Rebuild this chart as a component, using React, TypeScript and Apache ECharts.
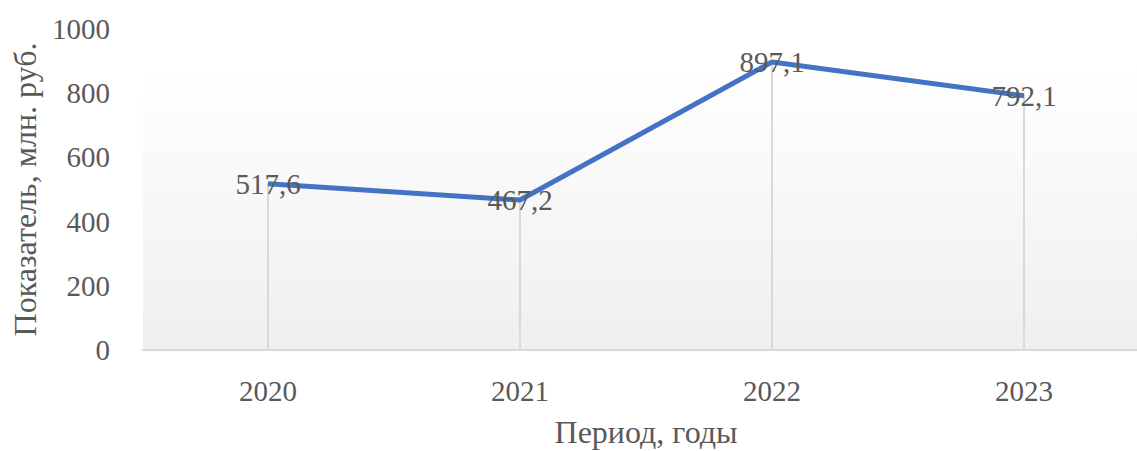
import React, { useEffect, useRef } from "react";
import * as echarts from "echarts";

const categories = ["2020", "2021", "2022", "2023"];
const values = [517.6, 467.2, 897.1, 792.1];
const yTicks = { min: 0, max: 1000, interval: 200 };
const xAxisName = "Период, годы";
const yAxisName = "Показатель, млн. руб.";

export default function App() {
  const ref = useRef<HTMLDivElement>(null);
  useEffect(() => {
    document.body.style.margin = "0";
    const chart = echarts.init(ref.current!, null, { renderer: "svg" });
    const font = "'Liberation Serif', 'Times New Roman', serif";
    const textColor = "#595959";
    chart.setOption({
      animation: false,
      textStyle: { fontFamily: font },
      graphic: [
        {
          type: "rect",
          z: -10,
          shape: { x: 143, y: 65, width: 1000, height: 285 },
          style: {
            fill: new echarts.graphic.LinearGradient(0, 0, 0, 1, [
              { offset: 0, color: "#ffffff" },
              { offset: 1, color: "#efefef" },
            ]),
          },
          silent: true,
        },
      ],
      grid: { left: 142, top: 29, width: 1008, height: 321, outerBoundsMode: "none", containLabel: false },
      xAxis: {
        type: "category",
        data: categories,
        boundaryGap: true,
        name: xAxisName,
        nameLocation: "middle",
        nameGap: 68,
        nameTextStyle: { fontSize: 32, lineHeight: 28, color: textColor, fontFamily: font },
        axisLine: { lineStyle: { color: "#d9d9d9", width: 2 } },
        axisTick: { show: false },
        axisLabel: { fontSize: 29, color: textColor, margin: 26, fontFamily: font },
        splitLine: { show: false },
      },
      yAxis: {
        type: "value",
        min: yTicks.min,
        max: yTicks.max,
        interval: yTicks.interval,
        name: yAxisName,
        nameLocation: "middle",
        nameGap: 100,
        nameTextStyle: { fontSize: 32, color: textColor, fontFamily: font },
        axisLine: { show: false },
        axisTick: { show: false },
        splitLine: { show: false },
        axisLabel: {
          fontSize: 29,
          color: textColor,
          margin: 32,
          fontFamily: font,
          formatter: (v: number) => String(v),
        },
      },
      series: [
        {
          type: "bar",
          data: values,
          barWidth: 2,
          itemStyle: { color: "#d9d9d9" },
          silent: true,
          z: 1,
        },
        {
          type: "line",
          data: values,
          z: 3,
          symbol: "circle",
          symbolSize: 1,
          itemStyle: { color: "#4472C4" },
          lineStyle: { color: "#4472C4", width: 5 },
          label: {
            show: true,
            position: "inside",
            fontSize: 29,
            color: textColor,
            fontFamily: font,
            formatter: (p: any) => String(p.value).replace(".", ","),
          },
        },
      ],
    });
    return () => chart.dispose();
  }, []);
  return <div ref={ref} style={{ width: 1137, height: 451 }} />;
}
